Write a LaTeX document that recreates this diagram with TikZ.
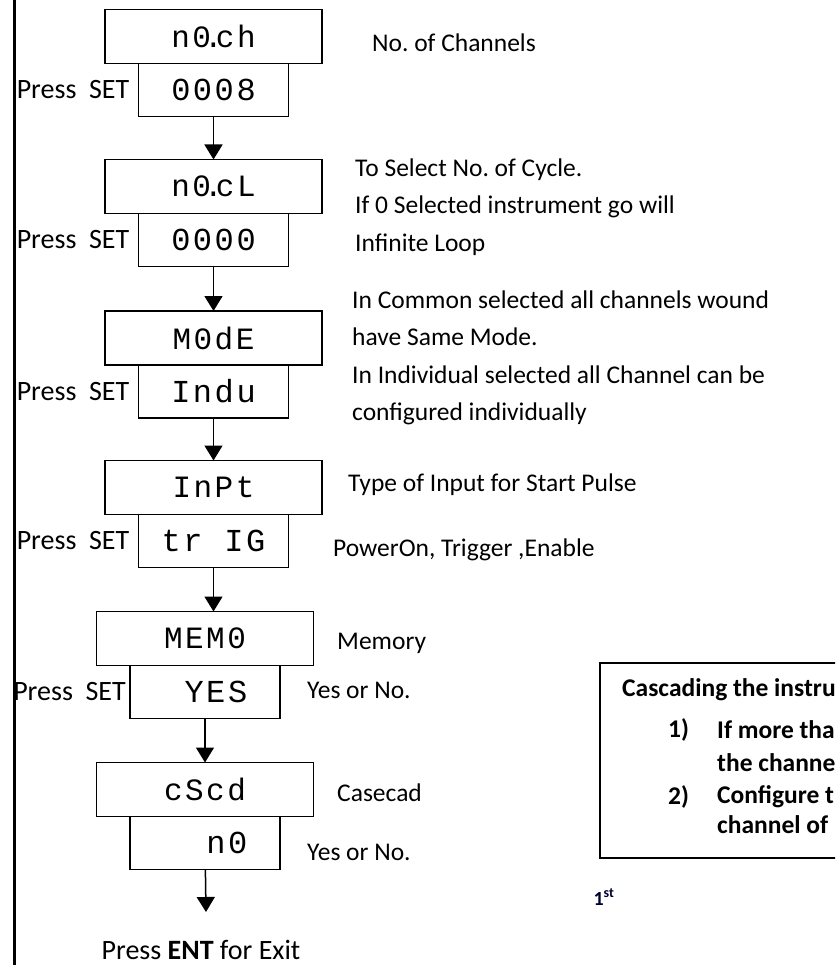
\documentclass[tikz,border=0pt]{standalone}
\usepackage{fontspec}
\setmainfont{Carlito}
\newfontfamily\segfont[LetterSpace=8]{Liberation Mono}
\usetikzlibrary{positioning,arrows.meta}

\tikzset{
  topbox/.style={draw, line width=1.4pt, outer sep=0pt, inner sep=0pt,
    minimum width=217pt, minimum height=54pt, font=\segfont\fontsize{31}{31}\selectfont},
  valbox/.style={draw, line width=1.4pt, outer sep=0pt, inner sep=0pt,
    minimum width=150pt, minimum height=53pt, font=\segfont\fontsize{32}{32}\selectfont},
  setlbl/.style={inner sep=0pt, font=\fontsize{28}{34}\selectfont},
  desc/.style={anchor=west, inner sep=0pt, align=left, font=\fontsize{25.5}{37.5}\selectfont},
  cascade/.style={anchor=west, inner sep=0pt, font=\bfseries\fontsize{25.5}{33}\selectfont},
  flow/.style={line width=1.5pt, -{Triangle[width=18pt,length=15pt]}},
}
\newcommand{\segdot}{\kern-0.22em.\kern-0.22em}

\begin{document}
\begin{tikzpicture}[x=1pt,y=-1pt]
    \useasboundingbox (0,0) rectangle (835,965);
    \clip (0,0) rectangle (835,965);

    % Left frame line
    \draw[line width=2.4pt] (14.5,0) -- (14.5,965);

    % Display screens
    \node[topbox] (nch) at (213.5,36.5) {n0\segdot ch};
    \node[valbox, below=0pt of nch] (nchval) {0008};
    \node[topbox] (ncl) at (213.5,186.5) {n0\segdot cL};
    \node[valbox, below=0pt of ncl] (nclval) {0000};
    \node[topbox] (mode) at (213.5,338) {M0dE};
    \node[valbox, below=0pt of mode] (modeval) {Indu};
    \node[topbox] (inpt) at (213.5,487.5) {InPt};
    \node[valbox, below=0pt of inpt] (inptval) {tr~IG};
    \node[topbox] (memo) at (205,638.5) {MEM0};
    \node[valbox, below=0pt of memo] (memoval) {~YES};
    \node[topbox] (cscd) at (205,789.5) {cScd};
    \node[valbox, below=0pt of cscd] (cscdval) {~~n0};
    \coordinate (stop) at (206,912);

    % Press SET labels
    \node[setlbl, left=9pt of nchval] (nchset) {Press\ \ SET};
    \node[setlbl, left=9pt of nclval] (nclset) {Press\ \ SET};
    \node[setlbl, left=9pt of modeval] (modeset) {Press\ \ SET};
    \node[setlbl, left=9pt of inptval] (inptset) {Press\ \ SET};
    \node[setlbl, left=4pt of memoval] (memoset) {Press\ \ SET};
    \node[setlbl, anchor=base] (exit) at (201,959) {Press \textbf{ENT} for Exit};

    % Flow arrows
    \draw[flow] (nchval) -- (ncl);
    \draw[flow] (nclval) -- (mode);
    \draw[flow] (modeval) -- (inpt);
    \draw[flow] (inptval.south) -- (inptval.south |- memo.north);
    \draw[flow] (memoval) -- (cscd);
    \draw[flow] (cscdval) -- (stop);

    % Descriptions
    \node[desc] (nchtxt) at (372,43) {No.\ of Channels};
    \node[desc] (ncltxt) at (355,207) {To Select No.\ of Cycle.\\If 0 Selected instrument go will\\Infinite Loop};
    \node[desc] (modetxt) at (352,358) {In Common selected all channels wound\\have Same Mode.\\In Individual selected all Channel can be\\configured individually};
    \node[desc] (inpttxt) at (348,485) {Type of Input for Start Pulse};
    \node[desc] (inptvaltxt) at (333,550) {PowerOn, Trigger ,Enable};
    \node[desc] (memotxt) at (337,643) {Memory};
    \node[desc] (memovaltxt) at (307,690) {Yes or No.};
    \node[desc] (cscdtxt) at (337,793) {Casecad};
    \node[desc] (cscdvaltxt) at (307,852) {Yes or No.};

    % Cascading note
    \draw[line width=1.4pt] (600,663) rectangle (860,858);
    \node[cascade] (castitle) at (622,690) {Cascading the instru};
    \node[cascade] (casone) at (668,730) {1)};
    \node[cascade] (casonea) at (717,730) {If more tha};
    \node[cascade] (casoneb) at (717,763) {the channe};
    \node[cascade] (castwo) at (668,797) {2)};
    \node[cascade] (castwoa) at (717,797) {Configure t};
    \node[cascade] (castwob) at (717,825) {channel of};

    \node[inner sep=0pt, font=\bfseries\fontsize{20}{20}\selectfont, text=black!80!blue] (first) at (604,897) {1\textsuperscript{st}};
\end{tikzpicture}
\end{document}
